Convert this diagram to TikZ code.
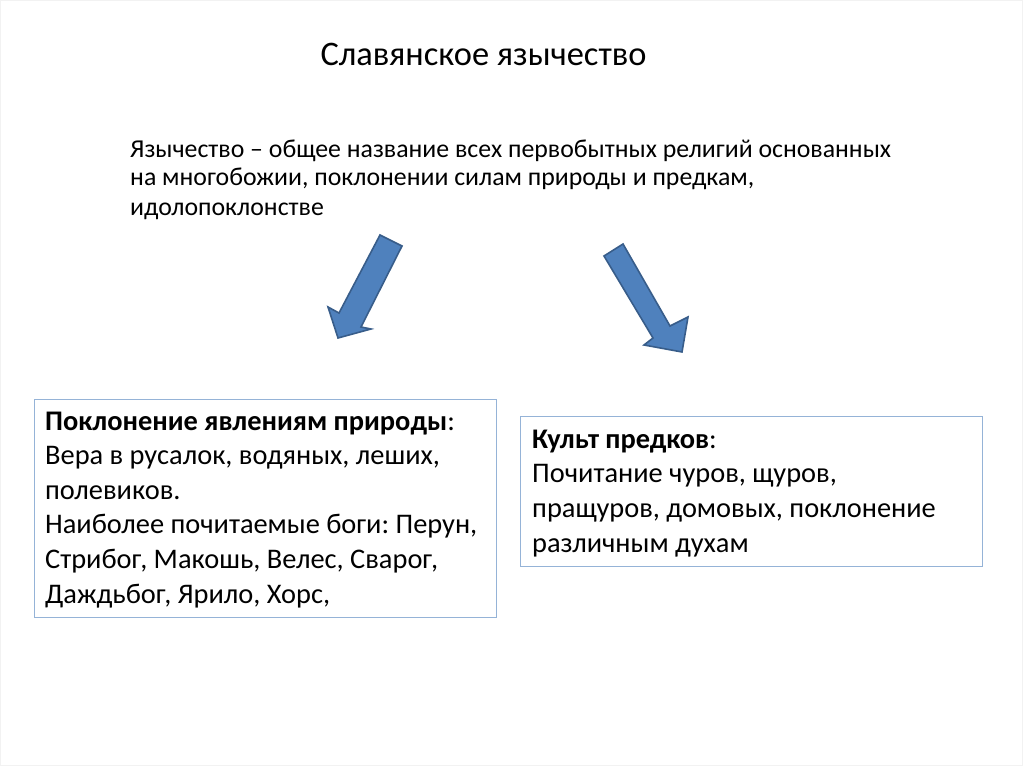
\documentclass[tikz,border=0pt]{standalone}
\usepackage{fontspec}
\setmainfont{Carlito}
\frenchspacing
\definecolor{arrowfill}{HTML}{4F81BD}
\definecolor{arrowline}{HTML}{385D8A}
\definecolor{boxline}{HTML}{95B3D7}
\definecolor{pageline}{HTML}{F2F2F2}
\begin{document}
\begin{tikzpicture}[x=1pt,y=-1pt,
  blockarrow/.style={fill=arrowfill,draw=arrowline,line width=1.6pt,line join=miter},
  infobox/.style={draw=boxline,line width=1.3pt,anchor=north west,inner sep=0pt},
  boxtext/.style={anchor=base west,align=left,inner sep=0pt,font=\fontsize{28.4}{34.6}\selectfont},
  introtext/.style={anchor=base west,align=left,inner sep=0pt,font=\fontsize{25.8}{29}\selectfont},
  titletext/.style={anchor=base,inner sep=0pt,font=\fontsize{34.4}{38}\selectfont}]
\useasboundingbox (0,0) rectangle (1024,767);
\draw[pageline,line width=1pt] (0.5,0.5) rectangle (1022.5,765.5);
\node[titletext] (title) at (483.5,66) {Славянское язычество};
\node[introtext] (intro) at (130,215) {Язычество – общее название всех первобытных религий основанных\\на многобожии, поклонении силам природы и предкам,\\идолопоклонстве};
% left arrow
\draw[blockarrow] (380,235) -- (402,246) -- (361,327) -- (371,329) -- (338,338) -- (328,307) -- (339,313) -- cycle;
% right arrow
\draw[blockarrow] (623,244) -- (604,256) -- (653,338) -- (644,345) -- (682,352) -- (688,317) -- (670,326) -- cycle;
\node[infobox,minimum width=462pt,minimum height=218pt] (nature) at (34,399) {};
\node[boxtext] (naturetext) at (45,603) {\textbf{Поклонение явлениям природы}:\\Вера в русалок, водяных, леших,\\полевиков.\\Наиболее почитаемые боги: Перун,\\Стрибог, Макошь, Велес, Сварог,\\Даждьбог, Ярило, Хорс,};
\node[infobox,minimum width=462pt,minimum height=150pt] (ancestors) at (520,416) {};
\node[boxtext] (ancestorstext) at (532,552) {\textbf{Культ предков}:\\Почитание чуров, щуров,\\пращуров, домовых, поклонение\\различным духам};
\end{tikzpicture}
\end{document}
